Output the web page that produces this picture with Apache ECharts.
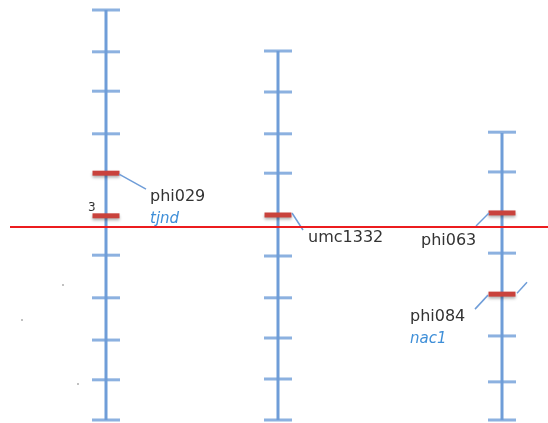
<!DOCTYPE html>
<html>
<head>
<meta charset="utf-8">
<script src="https://cdn.jsdelivr.net/npm/echarts@6/dist/echarts.min.js"></script>
<style>
  html, body { margin: 0; padding: 0; background: #fff; }
  #chart { width: 548px; height: 423px; }
</style>
</head>
<body>
<div id="chart"></div>
<script>
// chromosomes: x position (map units) and start/end (cM-like units, 0 = top)
var chromX = [1.06, 2.78, 5.02];
var chromStart = [0, 1, 3];
var chromEnd = [10, 10, 10];

// blue tick marks on each chromosome
var ticksLeft = [0, 1.02, 1.98, 3.02, 5.98, 7.02, 8.05, 9.02, 10];
var ticksMid = [1, 2, 3.02, 3.98, 6, 7.02, 8, 9, 10];
var ticksRight = [2.98, 3.95, 5.93, 7.95, 9.07, 10];

// red markers: chromosome index, position, name, gene
var markerChrom = [0, 0, 1, 2, 2];
var markerPos = [3.98, 5.02, 5.0, 4.95, 6.93];
var markerName = ['phi029', '3', 'umc1332', 'phi063', 'phi084'];
var markerGene = ['tjnd', '', '', '', 'nac1'];

// QTL threshold line
var thresholdPos = 5.29;
var thresholdFrom = 0.10;

// small stray specks in the picture
var specks = [[0.22, 7.56], [0.63, 6.71], [0.78, 9.12]];

// label placement (pixel offsets from marker centre) - layout only
var place = {
  'phi029': { from: [13, 1], to: [40, 16], text: [44, 24] },
  '3': { text: [-18, -8], small: true },
  'umc1332': { from: [14, -2], to: [25, 15], text: [30, 23] },
  'phi063': { from: [-13, 0], to: [-26, 13], text: [-81, 28] },
  'phi084': { from: [-14, 1], to: [-27, 15], extra: [[15, -1], [25, -12]], text: [-92, 23] }
};

var blue = '#6f9dd8';
var red = '#c9423c';

var myChart = echarts.init(document.getElementById('chart'));

var series = [];
// chromosome lines
chromX.forEach(function (x, i) {
  series.push({
    type: 'line',
    data: [[x, chromStart[i]], [x, chromEnd[i]]],
    symbol: 'none',
    silent: true,
    lineStyle: { color: blue, width: 3 },
    z: 2
  });
});

// ticks
var tickData = [];
ticksLeft.forEach(function (v) { tickData.push([chromX[0], v]); });
ticksMid.forEach(function (v) { tickData.push([chromX[1], v]); });
ticksRight.forEach(function (v) { tickData.push([chromX[2], v]); });
series.push({
  type: 'scatter',
  data: tickData,
  symbol: 'rect',
  symbolSize: [28, 3],
  itemStyle: { color: blue },
  silent: true,
  z: 3
});

// threshold line
series.push({
  type: 'line',
  data: [[thresholdFrom, thresholdPos], [5.48, thresholdPos]],
  symbol: 'none',
  silent: true,
  lineStyle: { color: '#ec1c1f', width: 2 },
  z: 5
});

// specks
series.push({
  type: 'scatter',
  data: specks,
  symbolSize: 2,
  itemStyle: { color: '#999' },
  silent: true
});

// markers with leader lines and labels
var markerData = markerPos.map(function (p, i) {
  return [chromX[markerChrom[i]], p, i];
});
series.push({
  type: 'custom',
  data: markerData,
  silent: true,
  z: 4,
  renderItem: function (params, api) {
    var i = api.value(2);
    var c = api.coord([api.value(0), api.value(1)]);
    var name = markerName[i];
    var pl = place[name];
    var kids = [{
      type: 'rect',
      shape: { x: c[0] - 13.5, y: c[1] - 2.5, width: 27, height: 5 },
      style: { fill: red, shadowColor: 'rgba(0,0,0,0.3)', shadowBlur: 3, shadowOffsetY: 2 }
    }];
    if (pl.from) {
      kids.push({
        type: 'line',
        shape: { x1: c[0] + pl.from[0], y1: c[1] + pl.from[1], x2: c[0] + pl.to[0], y2: c[1] + pl.to[1] },
        style: { stroke: blue, lineWidth: 1.5 }
      });
    }
    if (pl.extra) {
      kids.push({
        type: 'line',
        shape: { x1: c[0] + pl.extra[0][0], y1: c[1] + pl.extra[0][1], x2: c[0] + pl.extra[1][0], y2: c[1] + pl.extra[1][1] },
        style: { stroke: blue, lineWidth: 1.5 }
      });
    }
    kids.push({
      type: 'text',
      x: c[0] + pl.text[0],
      y: c[1] + pl.text[1],
      style: {
        text: name,
        fill: '#333',
        font: (pl.small ? '12px' : '16px') + ' "DejaVu Sans"',
        verticalAlign: 'middle',
        align: 'left'
      }
    });
    if (markerGene[i]) {
      kids.push({
        type: 'text',
        x: c[0] + pl.text[0],
        y: c[1] + pl.text[1] + 22,
        style: {
          text: markerGene[i],
          fill: '#3f8fd8',
          font: 'italic 15px "DejaVu Sans"',
          verticalAlign: 'middle',
          align: 'left'
        }
      });
    }
    return { type: 'group', children: kids };
  }
});

myChart.setOption({
  animation: false,
  grid: { left: 0, right: 0, top: 10, bottom: 3 },
  xAxis: { type: 'value', min: 0, max: 5.48, show: false },
  yAxis: { type: 'value', min: 0, max: 10, inverse: true, show: false },
  series: series
});
</script>
</body>
</html>
